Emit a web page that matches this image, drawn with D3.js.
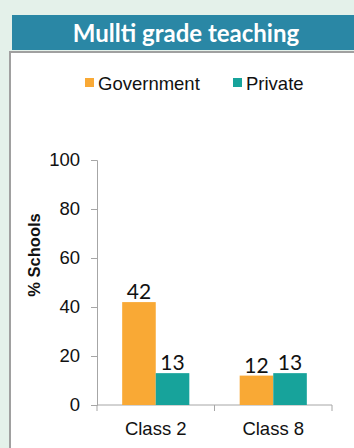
<!DOCTYPE html>
<html>
<head>
<meta charset="utf-8">
<script src="https://cdn.jsdelivr.net/npm/d3@7"></script>
<style>
  html, body { margin: 0; padding: 0; background: #e4f1ea; }
  svg { display: block; }
</style>
</head>
<body>
<svg id="chart" width="354" height="448"></svg>
<script>
// Share of schools with multi-grade teaching, by class and school type
const titleText = "Mullti grade teaching";
const categories = ["Class 2", "Class 8"];
const seriesNames = ["Government", "Private"];
const government = [42, 12];
const privateSchools = [13, 13];
const yTicks = [0, 20, 40, 60, 80, 100];
const yLabel = "% Schools";

const colors = { Government: "#f9a935", Private: "#17a39b" };
const seriesValues = { Government: government, Private: privateSchools };

const svg = d3.select("#chart");
const W = 354, H = 448;

// page background
svg.append("rect").attr("width", W).attr("height", H).attr("fill", "#e4f1ea");

// title banner
svg.append("rect").attr("x", 12).attr("y", 15).attr("width", W - 12).attr("height", 35)
  .attr("fill", "#2a87a5");
svg.append("text").attr("x", 186).attr("y", 42).attr("text-anchor", "middle")
  .attr("font-family", "Lato, 'Open Sans', sans-serif").attr("font-weight", "bold")
  .attr("font-size", 24).attr("fill", "#ffffff").text(titleText);

// white chart panel with grey frame
svg.append("rect").attr("x", 10).attr("y", 52).attr("width", W).attr("height", H)
  .attr("fill", "#ffffff").attr("stroke", "#a0a0a0").attr("stroke-width", 2);

// scales
const x0 = d3.scaleBand().domain(categories).range([97, 332]).paddingInner(0).paddingOuter(0);
const x1 = d3.scaleBand().domain(seriesNames).range([0, x0.bandwidth()]).paddingInner(0).paddingOuter(0.75);
const y = d3.scaleLinear().domain([0, 100]).range([405, 160]);

const font = "'Liberation Sans', Arial, sans-serif";

// y axis
const yAxis = svg.append("g").attr("transform", "translate(97,0)")
  .call(d3.axisLeft(y).tickValues(yTicks).tickSize(6).tickPadding(11));
yAxis.select(".domain").attr("stroke", "#a6a6a6");
yAxis.selectAll(".tick line").attr("stroke", "#a6a6a6");
yAxis.selectAll(".tick text").attr("font-family", font).attr("font-size", 18.5).attr("fill", "#111");

// x axis: ticks at band boundaries, labels centred in each band
const xAxisG = svg.append("g").attr("transform", "translate(0,405)");
xAxisG.append("line").attr("x1", 97).attr("x2", 332).attr("stroke", "#a6a6a6");
const bounds = categories.map(c => x0(c)).concat([x0(categories[categories.length - 1]) + x0.bandwidth()]);
xAxisG.selectAll("line.tk").data(bounds).join("line").attr("class", "tk")
  .attr("x1", d => d).attr("x2", d => d).attr("y1", 0).attr("y2", 6).attr("stroke", "#a6a6a6");
xAxisG.selectAll("text").data(categories).join("text")
  .attr("x", d => x0(d) + x0.bandwidth() / 2).attr("y", 30)
  .attr("text-anchor", "middle").attr("font-family", font).attr("font-size", 18.5)
  .attr("fill", "#111").text(d => d);

// y axis title
svg.append("text").attr("transform", "translate(40,255) rotate(-90)")
  .attr("text-anchor", "middle").attr("font-family", font).attr("font-weight", "bold")
  .attr("font-size", 16.5).attr("fill", "#111").text(yLabel);

// bars and value labels
const rows = [];
categories.forEach((c, i) => seriesNames.forEach(s => rows.push({ c, s, v: seriesValues[s][i] })));

svg.append("g").selectAll("rect").data(rows).join("rect")
  .attr("x", d => x0(d.c) + x1(d.s)).attr("width", x1.bandwidth())
  .attr("y", d => y(d.v)).attr("height", d => y(0) - y(d.v))
  .attr("fill", d => colors[d.s]);

svg.append("g").selectAll("text").data(rows).join("text")
  .attr("x", d => x0(d.c) + x1(d.s) + x1.bandwidth() / 2).attr("y", d => y(d.v) - 3)
  .attr("text-anchor", "middle").attr("font-family", "Lato, 'Open Sans', sans-serif")
  .attr("font-size", 21).attr("fill", "#111").text(d => d.v);

// legend
const legendX = [85, 233];
const lg = svg.append("g").selectAll("g").data(seriesNames).join("g")
  .attr("transform", (d, i) => `translate(${legendX[i]},78)`);
lg.append("rect").attr("width", 9).attr("height", 9).attr("fill", d => colors[d]);
lg.append("text").attr("x", 13).attr("y", 11.5).attr("font-family", font).attr("font-size", 18.5)
  .attr("fill", "#111").text(d => d);
</script>
</body>
</html>
